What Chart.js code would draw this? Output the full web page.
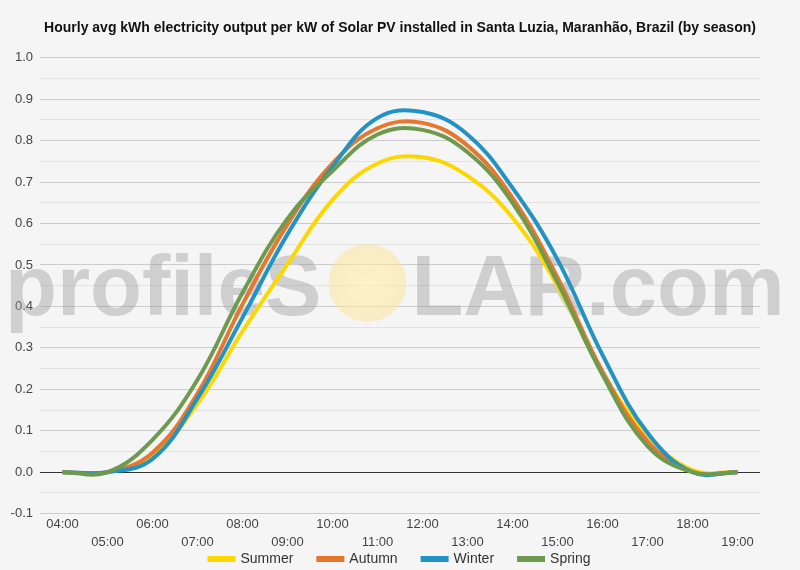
<!DOCTYPE html>
<html>
<head>
<meta charset="utf-8">
<script src="https://cdn.jsdelivr.net/npm/chart.js@4.4.1/dist/chart.umd.min.js"></script>
<style>
  html, body { margin: 0; padding: 0; background: #f5f5f5; }
  #wrap { width: 800px; height: 570px; position: relative; }
</style>
</head>
<body>
<div id="wrap"><canvas id="solar"></canvas></div>
<script>
// hourly values
const hours = ['04:00', '05:00', '06:00', '07:00', '08:00', '09:00', '10:00', '11:00',
               '12:00', '13:00', '14:00', '15:00', '16:00', '17:00', '18:00', '19:00'];
const summer = [0, 0, 0.04, 0.165, 0.34, 0.502, 0.657, 0.745, 0.76, 0.715, 0.614, 0.45, 0.24, 0.09, 0.005, 0];
const autumn = [0, 0, 0.047, 0.19, 0.405, 0.598, 0.745, 0.83, 0.843, 0.788, 0.662, 0.47, 0.243, 0.075, 0, 0];
const winter = [0, 0, 0.032, 0.178, 0.373, 0.574, 0.737, 0.855, 0.869, 0.815, 0.686, 0.513, 0.283, 0.095, 0, 0];
const spring = [0, 0, 0.078, 0.223, 0.433, 0.612, 0.727, 0.815, 0.826, 0.772, 0.65, 0.458, 0.235, 0.063, 0, 0];
const yMin = -0.1;
const yMax = 1.0;

const FONT = '"Liberation Sans", Arial, sans-serif';

// profileSOLAR watermark, drawn under the lines
const watermark = {
    id: 'watermark',
    beforeDatasetsDraw(chart) {
        const ctx = chart.ctx;
        ctx.save();
        ctx.font = 'bold 85px ' + FONT;
        ctx.textBaseline = 'alphabetic';
        const base = 315;
        let x = 5;
        ctx.fillStyle = 'rgba(150,150,150,0.4)';
        ctx.fillText('profileS', x, base);
        x += ctx.measureText('profileS').width + 7;
        const r = 39, cx = x + r, cy = 283;
        const g = ctx.createRadialGradient(cx, cy, 4, cx, cy, r);
        g.addColorStop(0, 'rgba(255,240,180,0.65)');
        g.addColorStop(1, 'rgba(253,228,150,0.5)');
        ctx.fillStyle = g;
        ctx.beginPath();
        ctx.arc(cx, cy, r, 0, Math.PI * 2);
        ctx.fill();
        x += 2 * r + 5;
        ctx.fillStyle = 'rgba(150,150,150,0.4)';
        ctx.fillText('LAR.com', x, base);
        ctx.restore();
    }
};

// pull the legend up under the second row of hour labels
const legendSpot = {
    id: 'legendSpot',
    afterLayout(chart) {
        const L = chart.legend;
        if (!L) return;
        L.top = 527;
        L.height = 50;
        L.bottom = 577;
    }
};

const mk = (label, data, color, order) => ({
    label, data, order,
    borderColor: color,
    backgroundColor: color,
    borderWidth: 4,
    pointRadius: 0,
    tension: 0.4,
    fill: false
});

new Chart(document.getElementById('solar'), {
    type: 'line',
    data: {
        labels: hours,
        datasets: [
            mk('Summer', summer, '#fdd700', 4),
            mk('Autumn', autumn, '#e8772e', 3),
            mk('Winter', winter, '#2193c4', 2),
            mk('Spring', spring, '#6e9a50', 1)
        ]
    },
    options: {
        responsive: true,
        maintainAspectRatio: false,
        animation: false,
        layout: { padding: { left: 0, right: 0, top: 0, bottom: 0 } },
        scales: {
            x: {
                offset: true,
                grid: { display: false, drawTicks: false },
                border: { display: false },
                ticks: {
                    autoSkip: false,
                    maxRotation: 0,
                    padding: 2,
                    color: '#444',
                    font: { family: FONT, size: 13, lineHeight: 1.4 },
                    callback: (v, i) => i % 2 === 0 ? [hours[i], ''] : ['', hours[i]]
                }
            },
            y: {
                min: yMin,
                max: yMax,
                afterFit: (s) => { s.width = 40; },
                border: { display: false },
                grid: {
                    drawTicks: false,
                    lineWidth: 1,
                    color: (c) => {
                        const v = Math.round(c.tick.value * 100);
                        if (v === 0) return '#333';
                        return v % 10 === 0 ? '#cccccc' : '#e2e2e2';
                    }
                },
                ticks: {
                    stepSize: 0.05,
                    maxTicksLimit: 40,
                    padding: 7,
                    color: '#444',
                    font: { family: FONT, size: 13 },
                    callback: (v) => Math.round(v * 100) % 10 === 0 ? v.toFixed(1) : ''
                }
            },
            // empty right-hand axis, only keeps 40px free on the right
            yr: {
                position: 'right',
                afterFit: (s) => { s.width = 40; },
                grid: { display: false, drawTicks: false },
                border: { display: false },
                ticks: { display: false }
            }
        },
        plugins: {
            title: {
                display: true,
                text: 'Hourly avg kWh electricity output per kW of Solar PV installed in Santa Luzia, Maranhão, Brazil (by season)',
                color: '#111',
                font: { family: FONT, size: 14, weight: 'bold' },
                padding: { top: 20, bottom: 21 }
            },
            legend: {
                position: 'bottom',
                maxHeight: 16,
                labels: {
                    boxWidth: 24,
                    boxHeight: 2,
                    padding: 25,
                    color: '#333',
                    font: { family: FONT, size: 14 },
                    sort: (a, b) => a.datasetIndex - b.datasetIndex
                }
            },
            tooltip: { enabled: false }
        }
    },
    plugins: [watermark, legendSpot]
});
</script>
</body>
</html>
